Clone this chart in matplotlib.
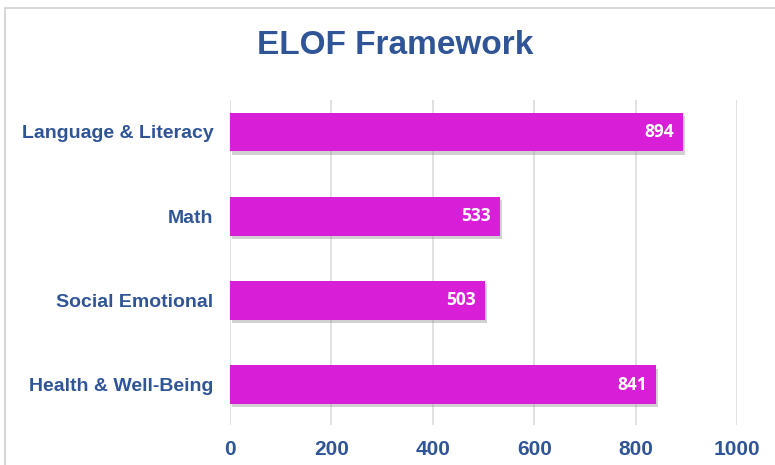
import matplotlib
matplotlib.use("Agg")
import matplotlib.pyplot as plt
import matplotlib.patheffects as pe
from matplotlib.patches import Rectangle

categories = ["Health & Well-Being", "Social Emotional", "Math", "Language & Literacy"]
values = [841, 503, 533, 894]
xticks = [0, 200, 400, 600, 800, 1000]

barColor = "#D81ED6"
textColor = "#2F5597"

plt.rcParams["font.family"] = ["Liberation Sans", "DejaVu Sans"]

fig = plt.figure(figsize=(7.75, 4.65), dpi=100)
ax = fig.add_axes([230 / 775, 1 - 425 / 465, 507 / 775, 325 / 465])

# light frame round the chart area
fig.patches.append(Rectangle((5 / 775, -0.1), 1.2, 1 - 8 / 465 + 0.1, transform=fig.transFigure,
                             fill=False, edgecolor="#D0D0D0", linewidth=1.2))

pos = list(range(len(categories)))
bars = ax.barh(pos, values, height=0.46, color=barColor, zorder=3)
for b in bars:
    b.set_path_effects([pe.SimplePatchShadow(offset=(1.5, -2.5), shadow_rgbFace="#999999", alpha=0.45), pe.Normal()])

for p, v in zip(pos, values):
    ax.text(v - 18, p, str(v), ha="right", va="center", color="white",
            fontsize=12.5, fontweight="bold", family=["Open Sans", "DejaVu Sans"], zorder=4)

ax.set_xlim(0, 1000)
ax.set_ylim(-0.48, 3.38)
ax.set_xticks(xticks)
ax.set_xticklabels([str(t) for t in xticks])
ax.set_yticks(pos)
ax.set_yticklabels(categories)
ax.tick_params(axis="x", length=0, pad=11, labelsize=15, labelcolor=textColor)
ax.tick_params(axis="y", length=0, pad=12, labelsize=14, labelcolor=textColor)
for lbl in ax.get_xticklabels() + ax.get_yticklabels():
    lbl.set_fontweight("bold")

ax.grid(axis="x", color="#D9D9D9", linewidth=1.1, zorder=0)
for s in ax.spines.values():
    s.set_visible(False)

fig.text(395 / 775, 1 - 45 / 465, "ELOF Framework", ha="center", va="center",
         fontsize=24, fontweight="bold", color=textColor)

fig.savefig("out.png", dpi=100)
